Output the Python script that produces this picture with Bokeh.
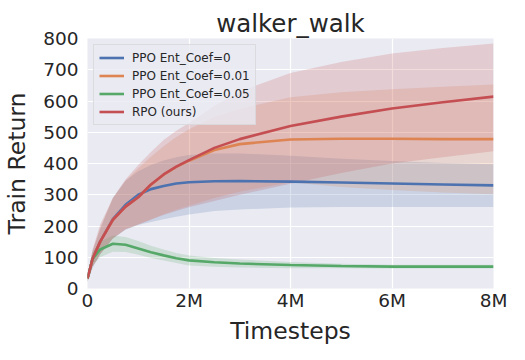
from bokeh.plotting import figure
from bokeh.models import FixedTicker, CustomJSTickFormatter, Legend, LegendItem, Range1d
from bokeh.embed import file_html
from bokeh.resources import INLINE

# Timesteps
steps = [0, 100000, 250000, 500000, 750000, 1000000, 1250000, 1500000, 1750000,
         2000000, 2500000, 3000000, 4000000, 5000000, 6000000, 7000000, 8000000]

# PPO Ent_Coef=0
blue_mean = [32, 95, 150, 222, 268, 300, 318, 328, 336, 340, 343, 344, 342, 339, 336, 333, 330]
blue_low  = [22, 65, 110, 160, 188, 203, 213, 222, 230, 237, 248, 253, 259, 261, 261, 261, 261]
blue_high = [42, 120, 190, 290, 345, 375, 395, 410, 420, 427, 432, 432, 425, 415, 408, 402, 398]

# PPO Ent_Coef=0.01
orange_mean = [32, 95, 150, 220, 262, 292, 332, 364, 389, 409, 443, 462, 477, 479, 479, 478, 478]
orange_low  = [22, 70, 110, 160, 190, 205, 222, 238, 252, 265, 290, 310, 340, 325, 315, 307, 302]
orange_high = [42, 120, 195, 290, 345, 385, 422, 455, 485, 510, 550, 575, 612, 628, 638, 646, 653]

# PPO Ent_Coef=0.05
green_mean = [32, 95, 125, 143, 140, 128, 116, 106, 97, 90, 84, 80, 75, 72, 70, 70, 70]
green_low  = [22, 75, 100, 118, 117, 108, 98, 90, 82, 74, 70, 67, 65, 65, 64, 64, 64]
green_high = [42, 115, 150, 170, 165, 152, 137, 125, 114, 106, 98, 93, 85, 79, 76, 76, 76]

# RPO (ours)
red_mean = [32, 95, 150, 220, 262, 292, 333, 365, 390, 411, 450, 478, 520, 550, 576, 596, 614]
red_low  = [22, 70, 110, 160, 190, 205, 220, 235, 248, 260, 280, 300, 335, 370, 400, 420, 439]
red_high = [42, 125, 205, 290, 350, 395, 437, 475, 505, 530, 585, 630, 690, 725, 752, 770, 784]

labels = ["PPO Ent_Coef=0", "PPO Ent_Coef=0.01", "PPO Ent_Coef=0.05", "RPO (ours)"]
colors = ["#4C72B0", "#DD8452", "#55A868", "#C44E52"]
x_ticks = [0, 2000000, 4000000, 6000000, 8000000]
y_ticks = [0, 100, 200, 300, 400, 500, 600, 700, 800]

FONT = "DejaVu Sans"

p = figure(frame_width=406, frame_height=250, output_backend="svg", toolbar_location=None,
           x_range=Range1d(0, 8000000), y_range=Range1d(0, 800),
           min_border_left=84, min_border_right=21, min_border_top=38, min_border_bottom=60,
           title="walker_walk")
p.title.text_font = FONT
p.title.text_font_size = "24.5px"
p.title.text_font_style = "normal"
p.title.align = "center"
p.title.text_color = "#262626"
p.title.standoff = 2

p.background_fill_color = "#EAEAF2"
p.border_fill_color = "white"
p.outline_line_color = None

p.xgrid.grid_line_color = "white"
p.ygrid.grid_line_color = "white"
p.xgrid.grid_line_width = 1.2
p.ygrid.grid_line_width = 1.2

p.xaxis.ticker = FixedTicker(ticks=x_ticks)
p.yaxis.ticker = FixedTicker(ticks=y_ticks)
p.xaxis.formatter = CustomJSTickFormatter(code="return tick == 0 ? '0' : (tick/1000000) + 'M';")

for ax in (p.xaxis, p.yaxis):
    ax.axis_line_color = None
    ax.major_tick_line_color = None
    ax.minor_tick_line_color = None
    ax.major_tick_out = 0
    ax.major_tick_in = 0
    ax.minor_tick_out = 0
    ax.minor_tick_in = 0
    ax.major_label_text_font = FONT
    ax.major_label_text_font_size = "18.5px"
    ax.major_label_text_color = "#262626"
    ax.axis_label_text_font = FONT
    ax.axis_label_text_font_size = "23.5px"
    ax.axis_label_text_font_style = "normal"
    ax.axis_label_text_color = "#262626"
p.xaxis.axis_label = "Timesteps"
p.yaxis.axis_label = "Train Return"
p.xaxis.major_label_standoff = 1
p.yaxis.major_label_standoff = 9
p.xaxis.axis_label_standoff = 3
p.yaxis.axis_label_standoff = 9

series = [
    (blue_mean, blue_low, blue_high),
    (orange_mean, orange_low, orange_high),
    (green_mean, green_low, green_high),
    (red_mean, red_low, red_high),
]

renderers = []
for (m, lo, hi), c in zip(series, colors):
    p.varea(x=steps, y1=lo, y2=hi, fill_color=c, fill_alpha=0.2)
for (m, lo, hi), c in zip(series, colors):
    r = p.line(x=steps, y=m, line_color=c, line_width=2.6)
    renderers.append(r)

legend = Legend(items=[LegendItem(label=l, renderers=[r]) for l, r in zip(labels, renderers)],
                location="top_left")
legend.label_text_font = FONT
legend.label_text_font_size = "12px"
legend.label_text_color = "#262626"
legend.background_fill_color = "#EAEAF2"
legend.background_fill_alpha = 0.8
legend.border_line_color = "#CCCCCC"
legend.border_line_width = 1
legend.margin = 6
legend.padding = 5
legend.spacing = 3
legend.label_height = 15
legend.glyph_height = 15
legend.glyph_width = 25
legend.label_standoff = 8
p.add_layout(legend)

open("out.html", "w").write(file_html(p, INLINE))
